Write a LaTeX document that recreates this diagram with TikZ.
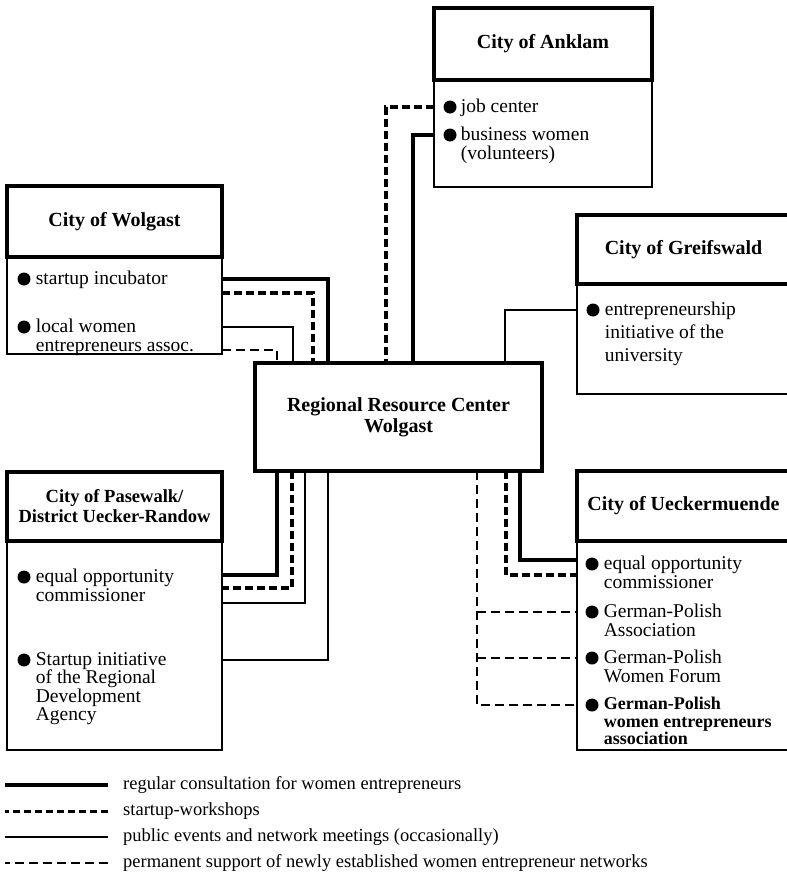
\documentclass[tikz,border=0pt]{standalone}
\usepackage{fontspec}
\setmainfont{Liberation Serif}
\usetikzlibrary{positioning}
\begin{document}
\begin{tikzpicture}[x=1pt, y=-1pt,
    hdr/.style={rectangle, draw, line width=3.2pt, inner sep=0pt, outer sep=0pt, align=center, font=\fontsize{20}{20}\selectfont\bfseries},
    bdy/.style={rectangle, draw, line width=1.8pt, inner sep=0pt, outer sep=0pt},
    dot/.style={circle, fill, inner sep=0pt, minimum size=13pt},
    itm/.style={anchor=north west, inner sep=0pt, align=left, font=\fontsize{19.5}{18.5}\selectfont},
    lgd/.style={anchor=west, inner sep=0pt, font=\fontsize{18.5}{20}\selectfont},
    reg/.style={line width=4pt},
    wshop/.style={line width=4pt, dash pattern=on 8pt off 4pt},
    pub/.style={line width=1.4pt},
    perm/.style={line width=2pt, dash pattern=on 9pt off 5pt}
  ]
    \useasboundingbox (0,0) rectangle (787,884);
    % Anklam
    \node[bdy, minimum width=218, minimum height=107] (ankb) at (543,133.5) {};
    \node[hdr, minimum width=218, minimum height=72] (ank) at (543,44) {City of Anklam};
    \node[dot] (a1) at (450,107) {};
    \node[itm] (a1t) at ([shift={(4,-8)}]a1.east) {job center};
    \node[dot] (a2) at (450,135) {};
    \node[itm] (a2t) at ([shift={(4,-8)}]a2.east) {business women\\(volunteers)};
    % Wolgast
    \node[bdy, minimum width=215, minimum height=97] (wolb) at (114.5,305.5) {};
    \node[hdr, minimum width=215, minimum height=71] (wol) at (114.5,221.5) {City of Wolgast};
    \node[dot] (w1) at (24,279) {};
    \node[itm] (w1t) at ([shift={(5,-8)}]w1.east) {startup incubator};
    \node[dot] (w2) at (24,327) {};
    \node[itm] (w2t) at ([shift={(5,-8)}]w2.east) {local women\\entrepreneurs assoc.};
    % Greifswald
    \node[bdy, minimum width=213, minimum height=110] (grfb) at (683.5,339) {};
    \node[hdr, minimum width=213, minimum height=69] (grf) at (683.5,249.5) {City of Greifswald};
    \node[dot] (g1) at (593,310) {};
    \node[itm, font=\fontsize{19.5}{23}\selectfont] (g1t) at ([shift={(5,-8)}]g1.east) {entrepreneurship\\initiative of the\\university};
    % Pasewalk
    \node[bdy, minimum width=215, minimum height=209] (pasb) at (114.5,645.5) {};
    \node[hdr, minimum width=215, minimum height=69, font=\fontsize{18.5}{20}\selectfont\bfseries] (pas) at (114.5,506.5) {City of Pasewalk/\\District Uecker-Randow};
    \node[dot] (p1) at (24,577) {};
    \node[itm] (p1t) at ([shift={(5,-8)}]p1.east) {equal opportunity\\commissioner};
    \node[dot] (p2) at (24,660) {};
    \node[itm] (p2t) at ([shift={(5,-8)}]p2.east) {Startup initiative\\of the Regional\\Development\\Agency};
    % Ueckermuende
    \node[bdy, minimum width=213, minimum height=209] (uckb) at (683.5,645.5) {};
    \node[hdr, minimum width=213, minimum height=70] (uck) at (683.5,506) {City of Ueckermuende};
    \node[dot] (u1) at (592,564) {};
    \node[itm] (u1t) at ([shift={(5,-8)}]u1.east) {equal opportunity\\commissioner};
    \node[dot] (u2) at (592,612) {};
    \node[itm] (u2t) at ([shift={(5,-8)}]u2.east) {German-Polish\\Association};
    \node[dot] (u3) at (592,658) {};
    \node[itm] (u3t) at ([shift={(5,-8)}]u3.east) {German-Polish\\Women Forum};
    \node[dot] (u4) at (592,705) {};
    \node[itm, font=\fontsize{18}{17.5}\selectfont\bfseries] (u4t) at ([shift={(5,-8)}]u4.east) {German-Polish\\women entrepreneurs\\association};
    % resource center
    \node[hdr, line width=4pt, minimum width=287, minimum height=108, font=\fontsize{20}{21}\selectfont\bfseries] (rrc) at (398.5,417) {Regional Resource Center\\Wolgast};
    \coordinate (tA) at (277,363);
    \coordinate (tB) at (293,363);
    \coordinate (tC) at (313,363);
    \coordinate (tD) at (328,363);
    \coordinate (tE) at (386,363);
    \coordinate (tF) at (413,363);
    \coordinate (tG) at (505,363);
    \coordinate (bA) at (277,471);
    \coordinate (bB) at (292,471);
    \coordinate (bC) at (305,471);
    \coordinate (bD) at (328,471);
    \coordinate (bE) at (477,471);
    \coordinate (bF) at (506,471);
    \coordinate (bG) at (520,471);
    % links
    \draw[wshop] (ankb.west |- a1) -| (tE);
    \draw[reg] (ankb.west |- a2) -| (tF);
    \draw[reg] (wolb.east |- w1) -| (tD);
    \draw[wshop] ([yshift=-14pt]wolb.east |- w1) -| (tC);
    \draw[pub] (wolb.east |- w2) -| (tB);
    \draw[perm] ([yshift=-23pt]wolb.east |- w2) -| (tA);
    \draw[pub] (tG) |- (grfb.west |- g1);
    \draw[reg] (bA) |- ([yshift=2pt]pasb.east |- p1);
    \draw[wshop] (bB) |- ([yshift=-11pt]pasb.east |- p1);
    \draw[pub] (bC) |- ([yshift=-26pt]pasb.east |- p1);
    \draw[pub] (bD) |- (pasb.east |- p2);
    \draw[reg] (bG) |- ([yshift=4pt]uckb.west |- u1);
    \draw[wshop] (bF) |- ([yshift=-11pt]uckb.west |- u1);
    \draw[perm] (bE) |- (uckb.west |- u4);
    \draw[perm] (bE |- u2) -- (uckb.west |- u2);
    \draw[perm] (bE |- u3) -- (uckb.west |- u3);
    % legend
    \node[lgd] (lg1) at (123,785) {regular consultation for women entrepreneurs};
    \node[lgd] (lg2) at (123,811) {startup-workshops};
    \node[lgd] (lg3) at (123,837) {public events and network meetings (occasionally)};
    \node[lgd] (lg4) at (123,863) {permanent support of newly established women entrepreneur networks};
    \draw[reg] ([xshift=-15pt]lg1.west) -- ++(-103,0);
    \draw[wshop, line width=3pt, dash pattern=on 7pt off 4pt] ([xshift=-15pt]lg2.west) -- ++(-103,0);
    \draw[pub] ([xshift=-15pt]lg3.west) -- ++(-103,0);
    \draw[perm] ([xshift=-15pt]lg4.west) -- ++(-103,0);
\end{tikzpicture}
\end{document}
